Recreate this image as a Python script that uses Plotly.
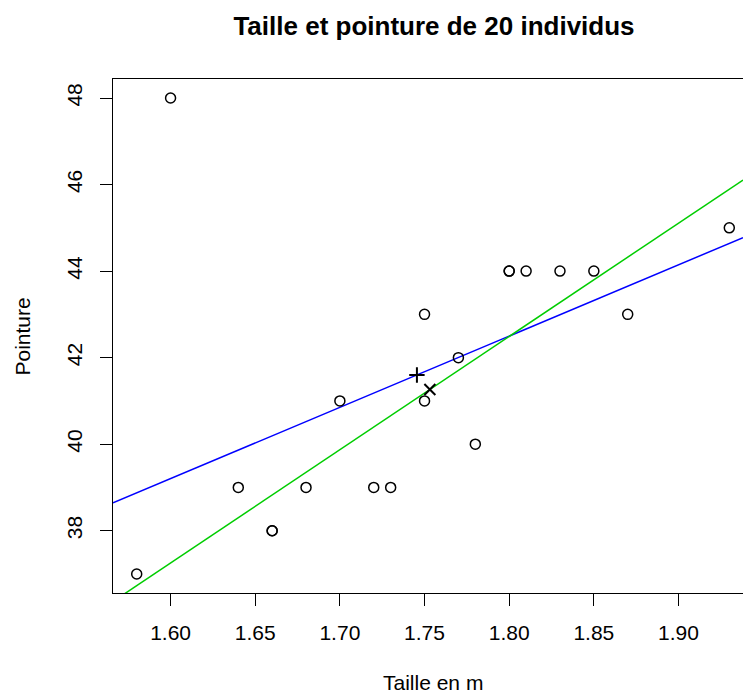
import numpy as np
import plotly.graph_objects as go

# Data
taille = [1.58, 1.60, 1.64, 1.66, 1.66, 1.68, 1.70, 1.72, 1.73, 1.75,
          1.75, 1.77, 1.78, 1.80, 1.80, 1.81, 1.83, 1.85, 1.87, 1.93]
pointure = [37, 48, 39, 38, 38, 39, 41, 39, 39, 43,
            41, 42, 40, 44, 44, 44, 44, 44, 43, 45]
x_ticks = [1.60, 1.65, 1.70, 1.75, 1.80, 1.85, 1.90]
x_ticklabels = ["1.60", "1.65", "1.70", "1.75", "1.80", "1.85", "1.90"]
y_ticks = [38, 40, 42, 44, 46, 48]
y_ticklabels = ["38", "40", "42", "44", "46", "48"]
outlier_index = 1  # individu (1.60, 48)

x = np.array(taille)
y = np.array(pointure)
mask = np.ones(len(x), dtype=bool)
mask[outlier_index] = False

# Fits
b_all, a_all = np.polyfit(x, y, 1)
b_sub, a_sub = np.polyfit(x[mask], y[mask], 1)
mx, my = x.mean(), y.mean()
mx2, my2 = x[mask].mean(), y[mask].mean()

# R-like axis ranges (4% extension), right side cut by the page
xspan = x.max() - x.min()
yspan = y.max() - y.min()
x0 = x.min() - 0.04 * xspan
x1_full = x.max() + 0.04 * xspan
y0 = y.min() - 0.04 * yspan
y1 = y.max() + 0.04 * yspan
W, H = 743, 696
L, T, B = 113, 79, 103
px_per_unit = (W - L + 10) / (x1_full - x0)
x1 = x0 + (W - L) / px_per_unit

FONT = "Liberation Sans, Arial, Helvetica, sans-serif"

xl = np.array([x0, x1])
fig = go.Figure()
fig.add_trace(go.Scatter(x=xl, y=a_all + b_all * xl, mode="lines",
                         line=dict(color="#0000FF", width=1.5), showlegend=False))
fig.add_trace(go.Scatter(x=xl, y=a_sub + b_sub * xl, mode="lines",
                         line=dict(color="#00CD00", width=1.5), showlegend=False))
fig.add_trace(go.Scatter(x=taille, y=pointure, mode="markers",
                         marker=dict(symbol="circle-open", size=10, color="black",
                                     line=dict(width=1.5, color="black")),
                         showlegend=False))
fig.add_trace(go.Scatter(x=[mx], y=[my], mode="markers",
                         marker=dict(symbol="cross-thin", size=11,
                                     line=dict(width=2, color="black")),
                         showlegend=False))
fig.add_trace(go.Scatter(x=[mx2], y=[my2], mode="markers",
                         marker=dict(symbol="x-thin", size=11,
                                     line=dict(width=2, color="black")),
                         showlegend=False))

fig.update_layout(
    width=W, height=H,
    margin=dict(l=L, r=0, t=T, b=B, pad=0),
    plot_bgcolor="white", paper_bgcolor="white",
    font=dict(family=FONT, size=21, color="black"),
    title=dict(text="<b>Taille et pointure de 20 individus</b>",
               font=dict(family=FONT, size=26, color="black"),
               x=434 / W, xanchor="center", xref="container",
               y=1 - 26 / H, yanchor="middle", yref="container"),
    xaxis=dict(range=[x0, x1], tickmode="array", tickvals=x_ticks, ticktext=x_ticklabels,
               showgrid=False, zeroline=False, showline=True, mirror=True,
               linecolor="black", linewidth=1, ticks="outside", ticklen=12,
               tickcolor="black", tickwidth=1, ticklabelstandoff=9),
    yaxis=dict(range=[y0, y1], tickmode="array", tickvals=y_ticks, ticktext=y_ticklabels,
               showgrid=False, zeroline=False, showline=True, mirror=False,
               linecolor="black", linewidth=1, ticks="outside", ticklen=12,
               tickcolor="black", tickwidth=1, tickangle=-90, ticklabelstandoff=10),
    annotations=[
        dict(text="Taille en m", xref="x", x=(x0 + x1_full) / 2, yref="paper",
             y=-(682 - (H - B)) / (H - B - T), xanchor="center", yanchor="middle",
             showarrow=False, font=dict(family=FONT, size=21, color="black")),
        dict(text="Pointure", xref="paper", x=-(L - 21.5) / (W - L), yref="paper",
             y=0.5, xanchor="center", yanchor="middle", textangle=-90,
             showarrow=False, font=dict(family=FONT, size=21, color="black")),
    ],
)

fig.write_html("out.html", config={"displayModeBar": False},
               post_script="document.body.style.margin='0';document.body.style.overflow='hidden';")
